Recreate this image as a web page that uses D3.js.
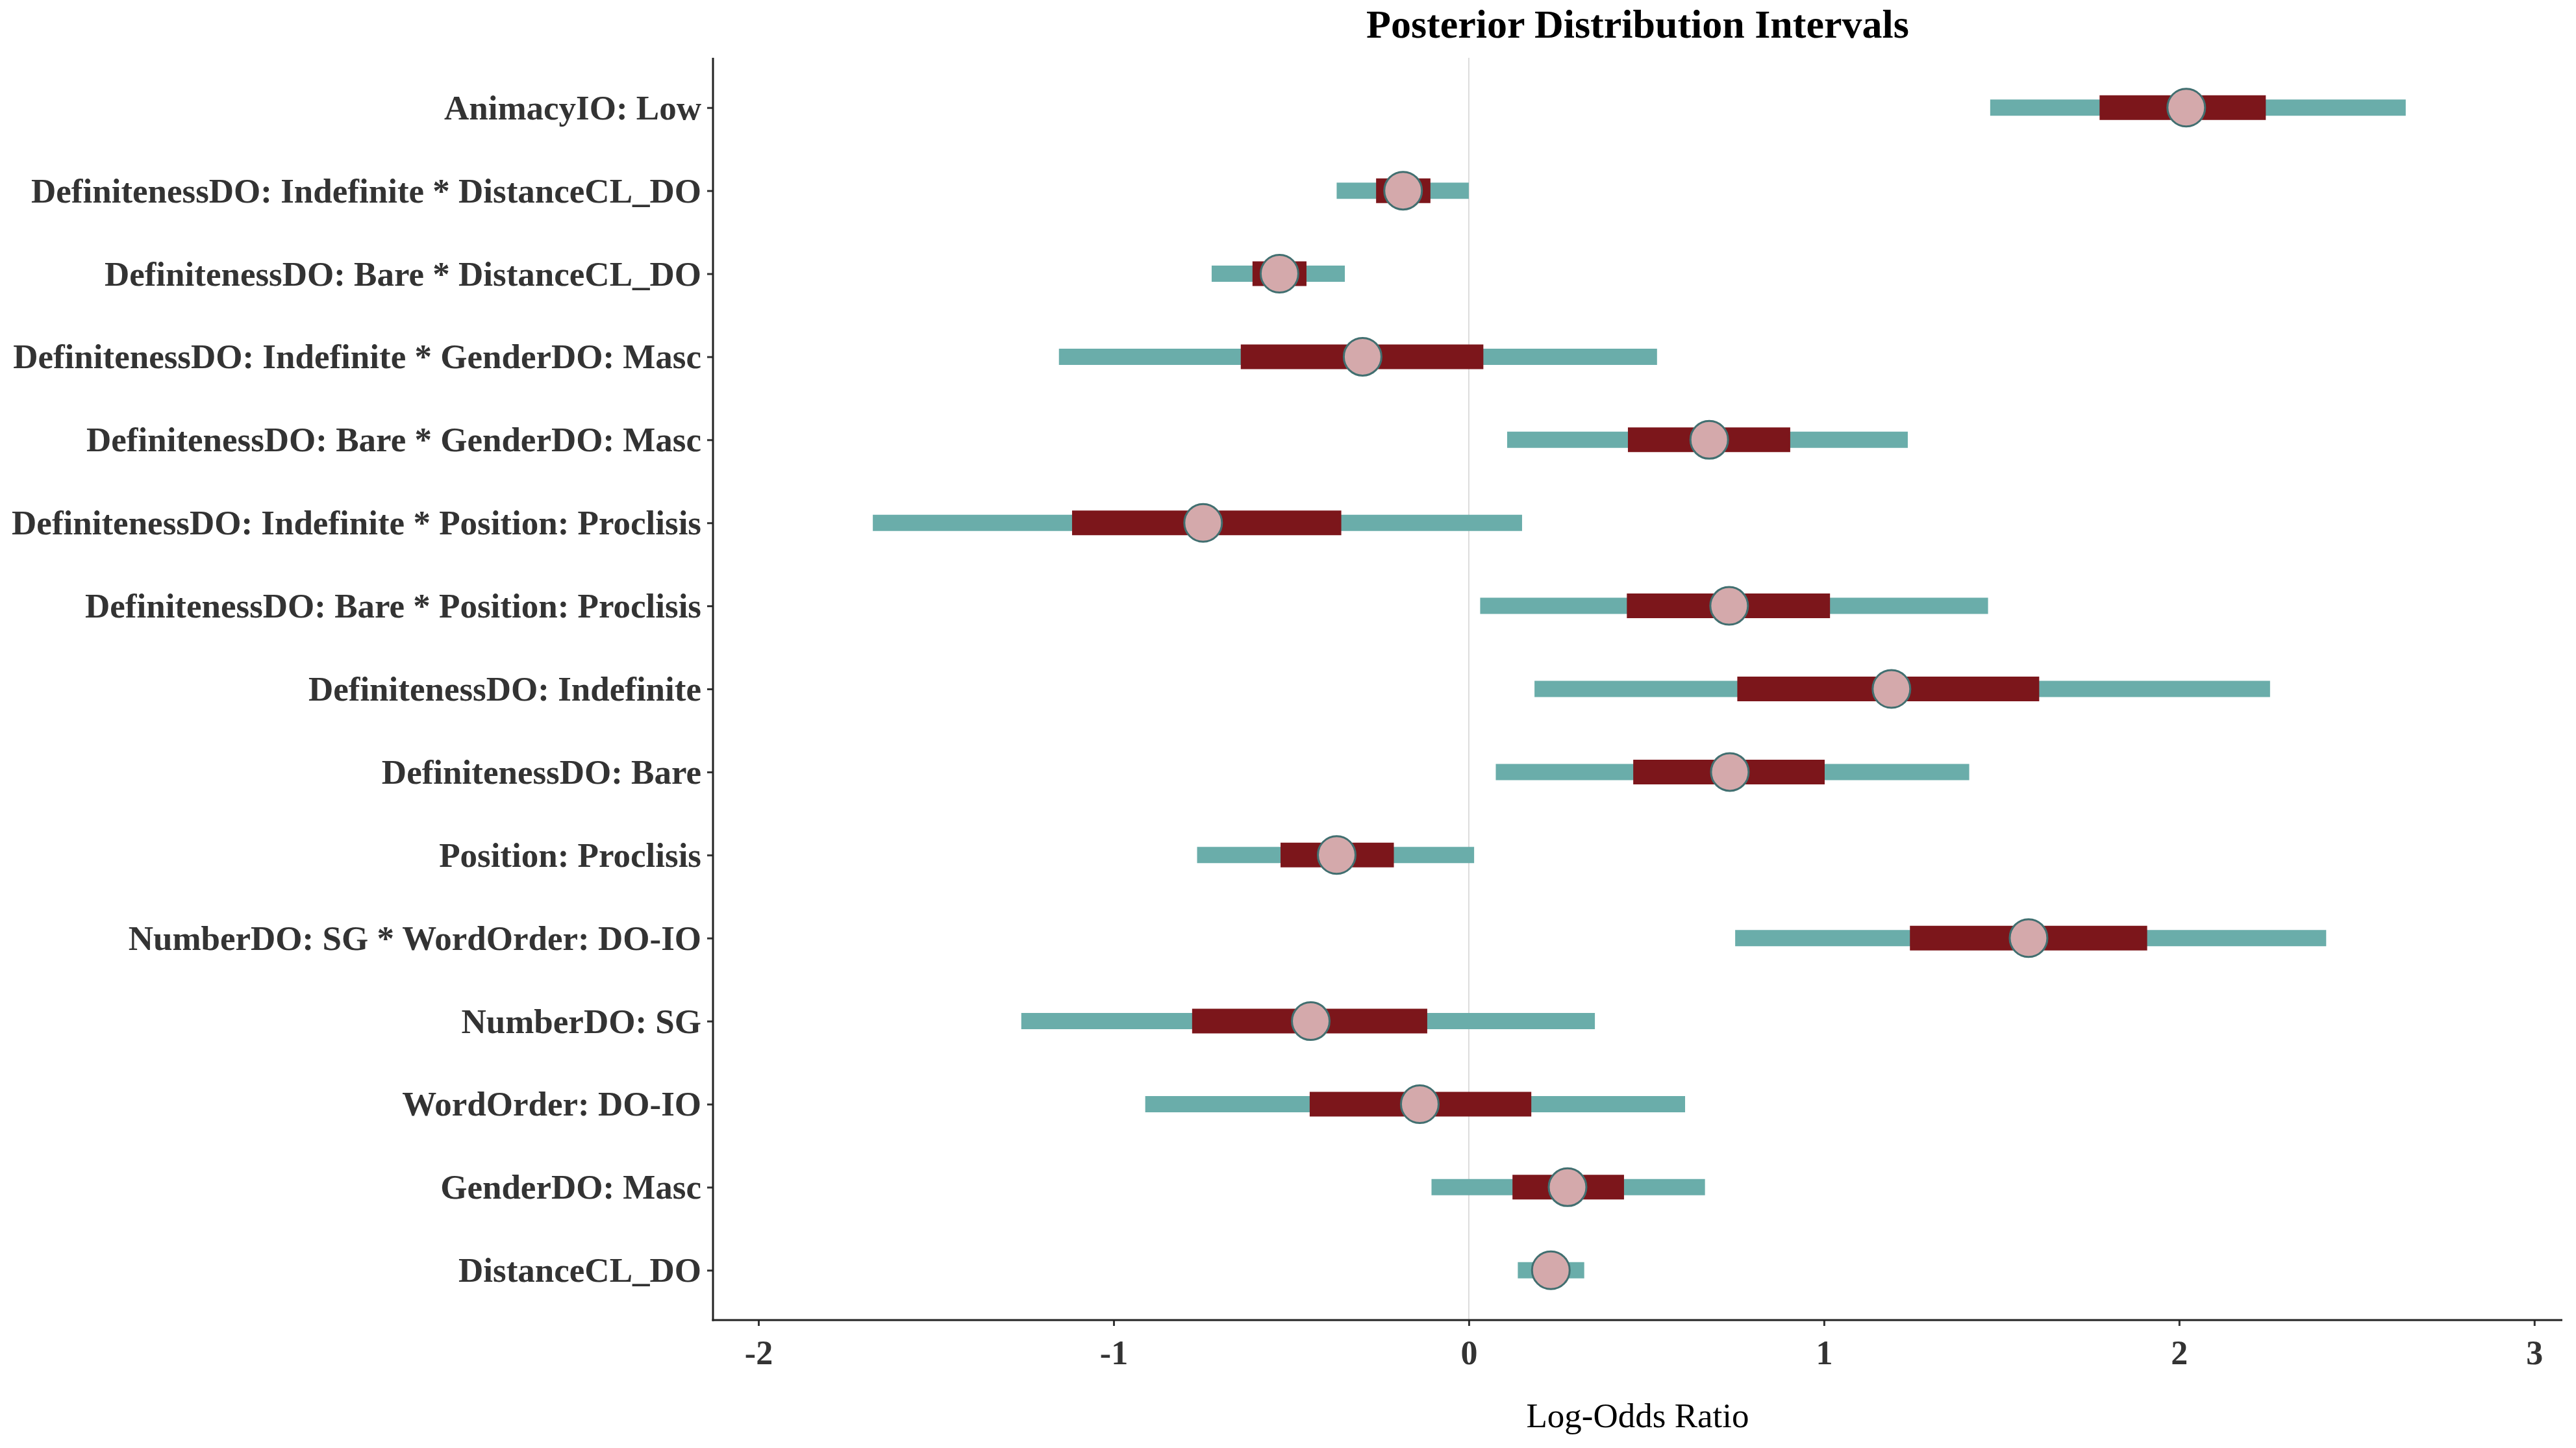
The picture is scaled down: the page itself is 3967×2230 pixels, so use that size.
<!DOCTYPE html>
<html>
<head>
<meta charset="utf-8">
<script src="https://cdn.jsdelivr.net/npm/d3@7"></script>
<style>
  body { margin: 0; background: #fff; }
  svg { display: block; }
  .y-label { font-family: "Liberation Serif", "Times New Roman", serif; font-weight: bold; font-size: 53px; fill: #333; }
  .x-tick text { font-family: "Liberation Serif", "Times New Roman", serif; font-weight: bold; font-size: 52px; fill: #333; }
</style>
</head>
<body>
<svg id="chart" width="3967" height="2230"></svg>
<script>
// terms, top to bottom
const terms = [
  'AnimacyIO: Low',
  'DefinitenessDO: Indefinite * DistanceCL_DO',
  'DefinitenessDO: Bare * DistanceCL_DO',
  'DefinitenessDO: Indefinite * GenderDO: Masc',
  'DefinitenessDO: Bare * GenderDO: Masc',
  'DefinitenessDO: Indefinite * Position: Proclisis',
  'DefinitenessDO: Bare * Position: Proclisis',
  'DefinitenessDO: Indefinite',
  'DefinitenessDO: Bare',
  'Position: Proclisis',
  'NumberDO: SG * WordOrder: DO-IO',
  'NumberDO: SG',
  'WordOrder: DO-IO',
  'GenderDO: Masc',
  'DistanceCL_DO'
];

const medians  = [ 2.02, -0.185, -0.533, -0.299,  0.677, -0.748,  0.733,  1.190,  0.735, -0.372,  1.576, -0.445, -0.138,  0.278,  0.231];
const innerLo  = [ 1.776, -0.261, -0.609, -0.642,  0.448, -1.117,  0.445,  0.756,  0.463, -0.530,  1.242, -0.779, -0.448,  0.123,  0.19];
const innerHi  = [ 2.244, -0.108, -0.457,  0.041,  0.905, -0.359,  1.017,  1.606,  1.002, -0.211,  1.910, -0.117,  0.176,  0.437,  0.275];
const outerLo  = [ 1.468, -0.372, -0.724, -1.154,  0.108, -1.678,  0.032,  0.185,  0.076, -0.765,  0.750, -1.260, -0.911, -0.105,  0.138];
const outerHi  = [ 2.638,  0.000, -0.349,  0.530,  1.236,  0.150,  1.462,  2.256,  1.409,  0.015,  2.414,  0.355,  0.609,  0.665,  0.325];

const xTicks = [-2, -1, 0, 1, 2, 3];
const xLimits = [-2.128, 3.079];

const chartTitle = 'Posterior Distribution Intervals';
const xTitle = 'Log-Odds Ratio';

const rows = terms.map((t, i) => ({
  term: t,
  median: medians[i],
  innerLo: innerLo[i],
  innerHi: innerHi[i],
  outerLo: outerLo[i],
  outerHi: outerHi[i]
}));

const panel = { left: 1098, right: 3946, top: 89, bottom: 2033 };
const svg = d3.select('#chart');

let x = d3.scaleLinear().domain(xLimits).range([panel.left, panel.right]);

// discrete axis with 0.6 units of padding on each side, like ggplot
let step = (panel.bottom - panel.top) / (terms.length - 1 + 1.2);
let y = d3.scalePoint()
    .domain(terms)
    .range([panel.top + 0.6 * step, panel.bottom - 0.6 * step]);

// zero reference line
svg.append('line')
    .attr('x1', x(0)).attr('x2', x(0))
    .attr('y1', panel.top).attr('y2', panel.bottom)
    .style('stroke', '#dcdcdc')
    .style('stroke-width', 2);

let marks = svg.append('g').attr('class', 'marks');

// outer (wide) interval
marks.selectAll('line.outer')
    .data(rows)
    .join('line')
    .attr('class', 'outer')
    .attr('x1', d => x(d.outerLo))
    .attr('x2', d => x(d.outerHi))
    .attr('y1', d => y(d.term))
    .attr('y2', d => y(d.term))
    .style('stroke', '#6aadaa')
    .style('stroke-width', 25);

// inner interval
marks.selectAll('line.inner')
    .data(rows)
    .join('line')
    .attr('class', 'inner')
    .attr('x1', d => x(d.innerLo))
    .attr('x2', d => x(d.innerHi))
    .attr('y1', d => y(d.term))
    .attr('y2', d => y(d.term))
    .style('stroke', '#7c161b')
    .style('stroke-width', 38);

// point estimate
marks.selectAll('circle')
    .data(rows)
    .join('circle')
    .attr('cx', d => x(d.median))
    .attr('cy', d => y(d.term))
    .attr('r', 29)
    .style('fill', '#d4a9ab')
    .style('stroke', '#416f70')
    .style('stroke-width', 3);

// y axis
let yAxis = svg.append('g')
    .attr('transform', `translate(${panel.left},0)`)
    .call(d3.axisLeft(y).tickSize(9).tickPadding(9));
yAxis.select('.domain').remove();
yAxis.selectAll('.tick line').style('stroke', '#333').style('stroke-width', 3);
yAxis.selectAll('.tick text')
    .attr('class', 'y-label')
    .attr('dy', '0.33em')
    .attr('font-size', null)
    .attr('font-family', null)
    .attr('fill', null);

svg.append('line')
    .attr('x1', panel.left).attr('x2', panel.left)
    .attr('y1', panel.top).attr('y2', panel.bottom + 1.5)
    .style('stroke', '#222')
    .style('stroke-width', 3);

// x axis
let xAxis = svg.append('g')
    .attr('class', 'x-tick')
    .attr('transform', `translate(0,${panel.bottom})`)
    .call(d3.axisBottom(x)
              .tickValues(xTicks)
              .tickFormat(d => String(d))
              .tickSize(9)
              .tickPadding(12));
xAxis.select('.domain').remove();
xAxis.selectAll('.tick line').style('stroke', '#333').style('stroke-width', 3);
xAxis.selectAll('.tick text')
    .attr('font-size', null)
    .attr('font-family', null)
    .attr('fill', null)
    .attr('dy', '0.9em');

svg.append('line')
    .attr('x1', panel.left - 1.5).attr('x2', panel.right)
    .attr('y1', panel.bottom).attr('y2', panel.bottom)
    .style('stroke', '#222')
    .style('stroke-width', 3);

// titles
let centerX = (panel.left + panel.right) / 2;
svg.append('text')
    .attr('x', centerX)
    .attr('y', 58)
    .attr('text-anchor', 'middle')
    .style('font-family', '"Liberation Serif", "Times New Roman", serif')
    .style('font-weight', 'bold')
    .style('font-size', '62px')
    .style('fill', '#000')
    .text(chartTitle);

svg.append('text')
    .attr('x', centerX)
    .attr('y', 2198)
    .attr('text-anchor', 'middle')
    .style('font-family', '"Liberation Serif", "Times New Roman", serif')
    .style('font-size', '53px')
    .style('fill', '#000')
    .text(xTitle);
</script>
</body>
</html>
